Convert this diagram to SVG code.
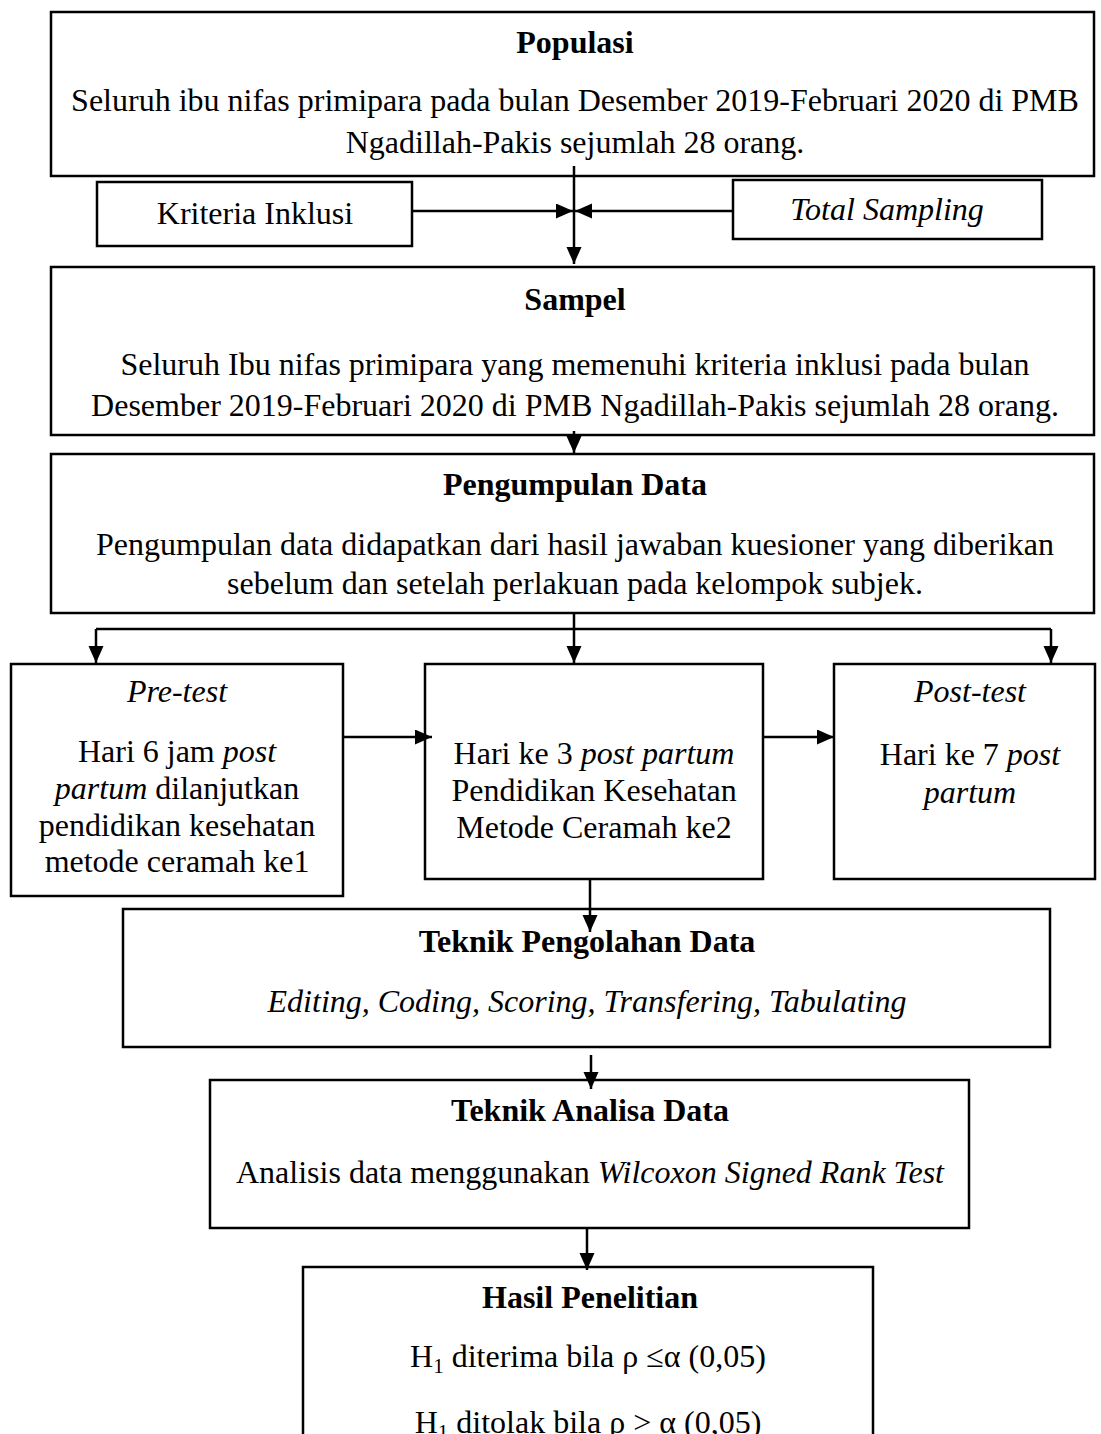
<svg xmlns="http://www.w3.org/2000/svg" width="1101" height="1434" viewBox="0 0 1101 1434">
<style>
.b{fill:#fff;stroke:#000;stroke-width:2.5}
text{font-family:"Liberation Serif","Times New Roman",serif;font-size:32px;fill:#000;text-anchor:middle}
.t{font-weight:bold}
.i{font-style:italic}
.c{fill:none;stroke:#000;stroke-width:2.5}
</style>
<defs>
<marker id="ah" markerUnits="userSpaceOnUse" markerWidth="18" markerHeight="16" refX="17" refY="7.5" orient="auto">
<path d="M0,0 L17,7.5 L0,15 Z" fill="#000"/>
</marker>
</defs>
<rect width="1101" height="1434" fill="#fff"/>
<g id="populasi">
<rect class="b" x="51" y="12" width="1043" height="164"/>
<text class="t" x="575" y="53">Populasi</text>
<text x="575" y="111">Seluruh ibu nifas primipara pada bulan Desember 2019-Februari 2020 di PMB</text>
<text x="575" y="153">Ngadillah-Pakis sejumlah 28 orang.</text>
</g>
<g id="kriteria">
<rect class="b" x="97" y="182" width="315" height="64"/>
<text x="255" y="224">Kriteria Inklusi</text>
</g>
<g id="total-sampling">
<rect class="b" x="733" y="180" width="309" height="59"/>
<text class="i" x="887" y="220">Total Sampling</text>
</g>
<g id="sampel">
<rect class="b" x="51" y="267" width="1043" height="168"/>
<text class="t" x="575" y="310">Sampel</text>
<text x="575" y="375">Seluruh Ibu nifas primipara yang memenuhi kriteria inklusi pada bulan</text>
<text x="575" y="416">Desember 2019-Februari 2020 di PMB Ngadillah-Pakis sejumlah 28 orang.</text>
</g>
<g id="pengumpulan">
<rect class="b" x="51" y="454" width="1043" height="159"/>
<text class="t" x="575" y="495">Pengumpulan Data</text>
<text x="575" y="555">Pengumpulan data didapatkan dari hasil jawaban kuesioner yang diberikan</text>
<text x="575" y="594">sebelum dan setelah perlakuan pada kelompok subjek.</text>
</g>
<g id="pretest">
<rect class="b" x="11" y="664" width="332" height="232"/>
<text class="i" x="177" y="702">Pre-test</text>
<text x="177" y="762">Hari 6 jam <tspan class="i">post</tspan></text>
<text x="177" y="799"><tspan class="i">partum</tspan> dilanjutkan</text>
<text x="177" y="836">pendidikan kesehatan</text>
<text x="177" y="872">metode ceramah ke1</text>
</g>
<g id="perlakuan">
<rect class="b" x="425" y="664" width="338" height="215"/>
<text x="594" y="764">Hari ke 3 <tspan class="i">post partum</tspan></text>
<text x="594" y="801">Pendidikan Kesehatan</text>
<text x="594" y="838">Metode Ceramah ke2</text>
</g>
<g id="posttest">
<rect class="b" x="834" y="664" width="261" height="215"/>
<text class="i" x="970" y="702">Post-test</text>
<text x="970" y="765">Hari ke 7 <tspan class="i">post</tspan></text>
<text class="i" x="970" y="803">partum</text>
</g>
<g id="pengolahan">
<rect class="b" x="123" y="909" width="927" height="138"/>
<text class="t" x="587" y="952">Teknik Pengolahan Data</text>
<text class="i" x="587" y="1012">Editing, Coding, Scoring, Transfering, Tabulating</text>
</g>
<g id="analisa">
<rect class="b" x="210" y="1080" width="759" height="148"/>
<text class="t" x="590" y="1121">Teknik Analisa Data</text>
<text x="590" y="1183">Analisis data menggunakan <tspan class="i">Wilcoxon Signed Rank Test</tspan></text>
</g>
<g id="hasil">
<rect class="b" x="303" y="1267" width="570" height="200"/>
<text class="t" x="590" y="1308">Hasil Penelitian</text>
<text x="588" y="1367">H<tspan font-size="21" dy="6">1</tspan><tspan dy="-6"> diterima bila ρ ≤α (0,05)</tspan></text>
<text x="588" y="1433">H<tspan font-size="21" dy="6">1</tspan><tspan dy="-6"> ditolak bila ρ &gt;  α (0,05)</tspan></text>
</g>
<g id="connectors">
<line class="c" x1="574" y1="166" x2="574" y2="264" marker-end="url(#ah)"/>
<line class="c" x1="412" y1="211" x2="573" y2="211" marker-end="url(#ah)"/>
<line class="c" x1="733" y1="211" x2="575" y2="211" marker-end="url(#ah)"/>
<line class="c" x1="574" y1="431" x2="574" y2="453" marker-end="url(#ah)"/>
<polyline class="c" points="574,613 574,629"/>
<line class="c" x1="96" y1="629" x2="1051" y2="629"/>
<line class="c" x1="96" y1="629" x2="96" y2="663" marker-end="url(#ah)"/>
<line class="c" x1="574" y1="629" x2="574" y2="663" marker-end="url(#ah)"/>
<line class="c" x1="1051" y1="629" x2="1051" y2="663" marker-end="url(#ah)"/>
<line class="c" x1="343" y1="737" x2="432" y2="737" marker-end="url(#ah)"/>
<line class="c" x1="763" y1="737" x2="834" y2="737" marker-end="url(#ah)"/>
<line class="c" x1="590" y1="879" x2="590" y2="932" marker-end="url(#ah)"/>
<line class="c" x1="591" y1="1055" x2="591" y2="1089" marker-end="url(#ah)"/>
<line class="c" x1="587" y1="1228" x2="587" y2="1270" marker-end="url(#ah)"/>
</g>
</svg>
